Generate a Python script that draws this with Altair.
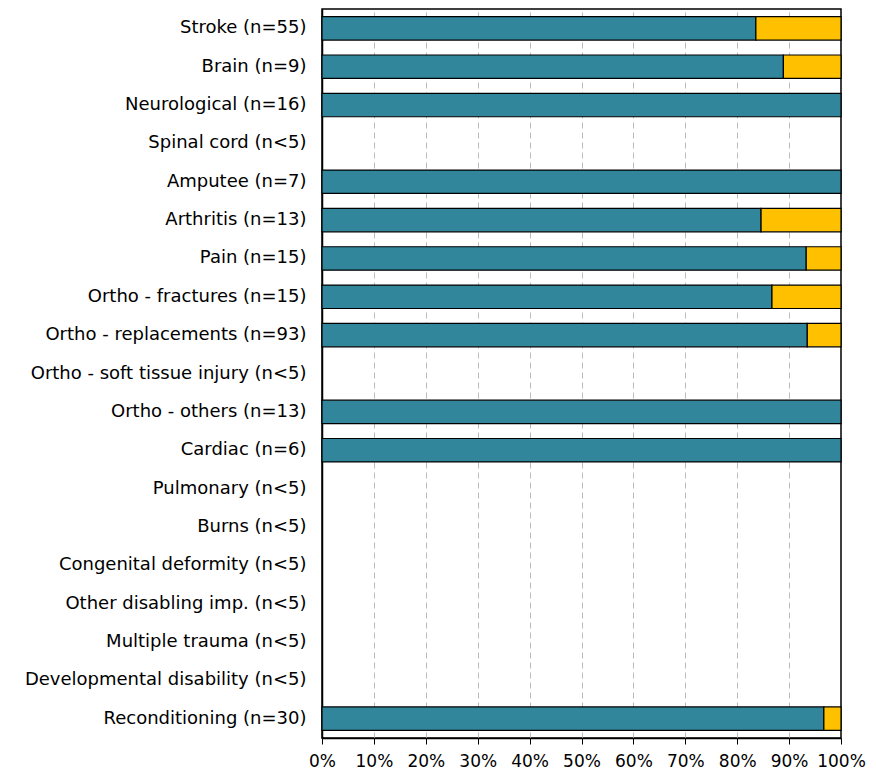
import altair as alt
import pandas as pd

categories = [
    "Stroke (n=55)", "Brain (n=9)", "Neurological (n=16)", "Spinal cord (n<5)",
    "Amputee (n=7)", "Arthritis (n=13)", "Pain (n=15)", "Ortho - fractures (n=15)",
    "Ortho - replacements (n=93)", "Ortho - soft tissue injury (n<5)",
    "Ortho - others (n=13)", "Cardiac (n=6)", "Pulmonary (n<5)", "Burns (n<5)",
    "Congenital deformity (n<5)", "Other disabling imp. (n<5)",
    "Multiple trauma (n<5)", "Developmental disability (n<5)", "Reconditioning (n=30)",
]
# None = suppressed (n<5)
series_a = [83.6, 88.9, 100, None, 100, 84.6, 93.3, 86.7, 93.5, None, 100, 100,
            None, None, None, None, None, None, 96.7]
series_b = [16.4, 11.1, 0, None, 0, 15.4, 6.7, 13.3, 6.5, None, 0, 0,
            None, None, None, None, None, None, 3.3]
series_names = ["Series A", "Series B"]
colors = ["#31869B", "#FFC000"]
x_ticks = list(range(0, 101, 10))

rows = []
for c, a, b in zip(categories, series_a, series_b):
    for i, (name, v) in enumerate(zip(series_names, [a, b])):
        if v is not None and v > 0:
            rows.append({"category": c, "series": name, "value": v / 100, "order": i})
df = pd.DataFrame(rows)

FONT = "DejaVu Sans"

chart = alt.Chart(df).mark_bar(stroke="black", strokeWidth=1.2).encode(
    y=alt.Y("category:N", sort=categories,
            scale=alt.Scale(domain=categories, paddingInner=0.39, paddingOuter=0.2),
            axis=alt.Axis(title=None, ticks=False, domain=True, domainColor="black", domainWidth=1.5,
                          labelFontSize=18, labelFont=FONT,
                          labelColor="black", labelPadding=16, labelLimit=400)),
    x=alt.X("value:Q", stack="zero", scale=alt.Scale(domain=[0, 1], nice=False),
            axis=alt.Axis(title=None, format=".0%", values=[t / 100 for t in x_ticks],
                          grid=True, gridDash=[6, 4], gridColor="#bbbbbb", gridWidth=1,
                          gridOpacity={"condition": {"test": "datum.value <= 0 || datum.value >= 1", "value": 0}, "value": 1},
                          tickColor="black", tickSize=6, domainColor="black", domainWidth=1.5,
                          labelFontSize=17, labelFont=FONT, labelColor="black", labelPadding=9,
                          labelOverlap=False, labelFlush=False)),
    color=alt.Color("series:N", scale=alt.Scale(domain=series_names, range=colors), legend=None),
    order=alt.Order("order:Q"),
).properties(
    width=519, height=729,
    autosize=alt.AutoSizeParams(type="none"),
    padding={"left": 314, "top": 1, "right": 27, "bottom": 32},
).configure_view(stroke="black", strokeWidth=1.5)

chart.save("out.html", embed_options={"renderer": "svg", "actions": False})
